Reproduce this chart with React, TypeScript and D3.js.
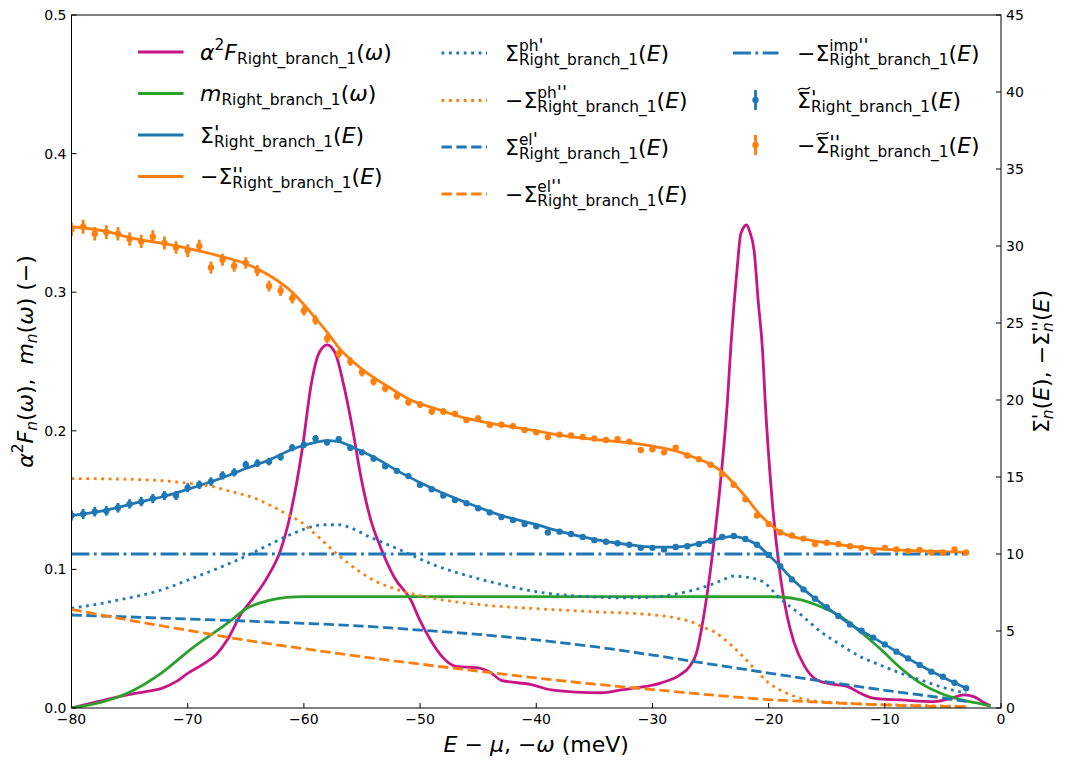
import React from 'react';
import * as d3 from 'd3';

const FONT = '"DejaVu Sans", sans-serif';
const BLUE = '#1f77b4';
const ORANGE = '#ff7f0e';
const GREEN = '#2ca02c';
const MAGENTA = '#c71585';

// Eliashberg function α²F(ω) (left axis), sampled on −ω
const a2fE = [-80, -78, -76, -75.2, -73.5, -72.3, -71, -70, -68.6, -67.5, -66.6, -65.4, -64.3, -63.1, -62, -61.1, -60.1, -59.4, -58.7, -58, -57.3, -56.6, -55.8, -55.1, -54.25, -53.4, -52.2, -50.8, -50, -49.1, -48.2, -46.9, -45, -44, -43, -40.5, -38.7, -36.6, -34.4, -32.7, -31, -29.3, -27.6, -26.8, -26.2, -25.8, -25, -24.3, -23.54, -23.25, -22.7, -22.4, -21.9, -21.6, -21.25, -20.9, -20.5, -20.3, -19.7, -19.1, -18.4, -17.8, -16.9, -15.8, -14.4, -13.2, -12.1, -10.9, -8.6, -5.7, -4.3, -3.2, -2.3, -1.6, -0.9];
const a2fV = [0.0, 0.004, 0.008, 0.0094, 0.012, 0.014, 0.019, 0.025, 0.032, 0.039, 0.049, 0.068, 0.08, 0.095, 0.114, 0.142, 0.189, 0.232, 0.256, 0.262, 0.256, 0.234, 0.201, 0.167, 0.136, 0.116, 0.094, 0.078, 0.063, 0.049, 0.038, 0.03, 0.029, 0.026, 0.02, 0.017, 0.013, 0.0115, 0.011, 0.013, 0.015, 0.018, 0.024, 0.03, 0.04, 0.056, 0.1, 0.15, 0.222, 0.261, 0.318, 0.342, 0.3485, 0.343, 0.33, 0.294, 0.255, 0.222, 0.15, 0.102, 0.066, 0.047, 0.03, 0.02, 0.017, 0.0154, 0.0106, 0.007, 0.0058, 0.0046, 0.007, 0.0094, 0.008, 0.0046, 0.0017];

// window function m(ω) (left axis)
const mE = [-80, -77.5, -75.2, -72.3, -69.5, -66.6, -64.9, -63.1, -61.5, -60, -20, -19, -17.2, -15.5, -13.8, -12.1, -10.3, -8.6, -6.9, -5.2, -3.4, -1.7, -0.9];
const mV = [0.0, 0.004, 0.0106, 0.025, 0.044, 0.061, 0.072, 0.0774, 0.0798, 0.0803, 0.0803, 0.0801, 0.078, 0.073, 0.066, 0.055, 0.042, 0.0286, 0.0178, 0.0106, 0.0058, 0.0029, 0.0014];

// fitted Σ'(E) (right axis, meV)
const sigReE = [-80, -77, -74, -72, -70, -67, -65, -63, -61, -59, -58, -57, -56, -54, -51.7, -48.8, -45.9, -43, -40.2, -37.9, -35, -32, -30, -28, -26.5, -25, -24, -23, -22, -21, -20, -19, -18, -17, -16, -15, -14, -13, -12, -11, -10, -9, -8, -7, -6, -5, -4, -3];
const sigReV = [12.5, 12.85, 13.4, 13.75, 14.2, 14.95, 15.55, 16.1, 16.8, 17.25, 17.36, 17.3, 17.0, 16.3, 15.3, 14.2, 13.3, 12.5, 11.95, 11.45, 10.95, 10.6, 10.45, 10.45, 10.6, 10.86, 11.05, 11.15, 10.97, 10.6, 9.94, 9.2, 8.4, 7.72, 7.1, 6.54, 5.97, 5.45, 5.0, 4.57, 4.13, 3.67, 3.22, 2.79, 2.38, 2.0, 1.64, 1.28];

// fitted −Σ''(E)
const sigImE = [-80, -77, -75, -72, -70, -67, -65, -63, -61, -60, -59, -58, -57, -55, -52.5, -50.8, -48.5, -46.5, -44, -42.2, -40, -37.9, -35, -30, -28, -26, -24.8, -23.8, -22.9, -21.8, -20.8, -19.9, -18.9, -17.8, -16.8, -14.8, -12.8, -9.8, -6.9, -3];
const sigImV = [31.25, 30.95, 30.55, 30.15, 29.85, 29.3, 28.85, 28.1, 27.0, 26.2, 25.3, 24.4, 23.4, 22.0, 20.75, 20.0, 19.4, 18.9, 18.5, 18.27, 18.0, 17.7, 17.45, 17.0, 16.7, 16.15, 15.75, 15.2, 14.5, 13.55, 12.6, 11.95, 11.4, 11.1, 10.95, 10.7, 10.5, 10.3, 10.2, 10.1];

// phonon part Σ^ph'
const phReE = [-80, -76, -72.3, -69.5, -65.4, -63, -60.9, -58.3, -57, -56, -54.3, -51.7, -48.8, -45.1, -42, -40, -37, -35, -32, -30, -28, -26.5, -25, -24, -23, -22, -20.5, -19, -17.2, -15.5, -13.8, -12.1, -10.4, -8.6, -6.9, -5.2, -3];
const phReV = [6.47, 7.0, 7.66, 8.45, 9.72, 10.6, 11.34, 11.9, 11.9, 11.7, 11.1, 10.26, 9.29, 8.42, 7.85, 7.55, 7.3, 7.2, 7.15, 7.2, 7.4, 7.65, 8.0, 8.3, 8.57, 8.5, 8.2, 7.1, 6.04, 4.95, 4.1, 3.33, 2.79, 2.25, 1.82, 1.38, 0.95];

// phonon part −Σ^ph''
const phImE = [-80, -75, -72, -70, -68, -66, -64.5, -63, -61.5, -60.3, -58.6, -57, -55.4, -54, -52, -50, -47, -44, -40, -35, -30, -28, -26.5, -25.8, -24.7, -23.1, -22.2, -21.4, -20.1, -18.4, -16.4, -12.9, -8, -3];
const phImV = [14.9, 14.85, 14.75, 14.6, 14.4, 14.0, 13.7, 13.2, 12.6, 12.1, 11.0, 9.9, 8.96, 8.3, 7.7, 7.3, 6.9, 6.65, 6.45, 6.25, 6.05, 5.85, 5.55, 5.3, 4.95, 4.0, 3.33, 2.7, 1.7, 0.95, 0.5, 0.3, 0.18, 0.1];

// electron part Σ^el'
const elReE = [-80, -70, -60, -55, -50, -45, -40, -35, -30, -25, -20, -15, -10, -5, -3];
const elReV = [6.04, 5.78, 5.5, 5.32, 5.06, 4.78, 4.42, 3.98, 3.44, 2.85, 2.27, 1.7, 1.15, 0.65, 0.42];

// electron part −Σ^el''
const elImE = [-80, -75, -70, -65, -60, -55, -50, -45, -40, -35, -30, -25, -20, -15, -10, -5, -3];
const elImV = [6.4, 5.7, 5.05, 4.4, 3.85, 3.33, 2.85, 2.4, 1.95, 1.55, 1.2, 0.85, 0.55, 0.35, 0.2, 0.1, 0.07];

// impurity part −Σ^imp''
const impE = [-80, -3];
const impV = [10, 10];

// extracted self energy points
const ptsE = [-80, -79, -78, -77, -76, -75, -74, -73, -72, -71, -70, -69, -68, -67, -66, -65, -64, -63, -62, -61, -60, -59, -58, -57, -56, -55, -54, -53, -52, -51, -50, -49, -48, -47, -46, -45, -44, -43, -42, -41, -40, -39, -38, -37, -36, -35, -34, -33, -32, -31, -30, -29, -28, -27, -26, -25, -24, -23, -22, -21, -20, -19, -18, -17, -16, -15, -14, -13, -12, -11, -10, -9, -8, -7, -6, -5, -4, -3];
const ptsRe = [12.5, 12.6, 12.75, 12.8, 13.0, 13.25, 13.4, 13.6, 13.8, 13.8,
  14.3, 14.5, 14.7, 15.1, 15.3, 15.8, 15.9, 16.0, 16.3, 16.9,
  17.1, 17.5, 17.25, 17.45, 16.9, 16.6, 16.2, 15.7, 15.4, 15.06,
  14.5, 14.2, 13.8, 13.5, 13.3, 12.97, 12.7, 12.4, 12.2, 11.95,
  11.8, 11.4, 11.45, 11.3, 11.1, 10.9, 10.8, 10.7, 10.6, 10.4,
  10.4, 10.3, 10.45, 10.5, 10.65, 10.86, 11.1, 11.17, 10.97, 10.6,
  9.94, 9.2, 8.35, 7.7, 7.1, 6.54, 5.97, 5.43, 5.02, 4.57,
  4.13, 3.66, 3.22, 2.79, 2.36, 2.03, 1.64, 1.28];
const ptsReErr = [0.32, 0.32, 0.31, 0.31, 0.31, 0.30, 0.30, 0.30, 0.29, 0.29,
  0.29, 0.28, 0.28, 0.27, 0.27, 0.26, 0.25, 0.25, 0.24, 0.23,
  0.23, 0.22, 0.21, 0.21, 0.20, 0.19, 0.19, 0.18, 0.17, 0.17,
  0.16, 0.16, 0.15, 0.15, 0.14, 0.14, 0.14, 0.13, 0.13, 0.13,
  0.12, 0.12, 0.12, 0.12, 0.11, 0.11, 0.11, 0.11, 0.11, 0.10,
  0.10, 0.10, 0.10, 0.10, 0.10, 0.09, 0.09, 0.09, 0.09, 0.09,
  0.08, 0.08, 0.08, 0.08, 0.08, 0.08, 0.07, 0.07, 0.07, 0.07,
  0.07, 0.07, 0.07, 0.07, 0.06, 0.06, 0.06, 0.06];
const ptsIm = [31.08, 31.25, 30.8, 30.9, 30.8, 30.45, 30.3, 30.6, 30.2, 29.9,
  29.7, 30.0, 28.6, 29.1, 28.7, 28.9, 28.4, 27.4, 27.1, 26.6,
  25.8, 25.2, 24.0, 23.0, 22.5, 21.8, 21.2, 20.75, 20.26, 19.85,
  19.7, 19.25, 19.25, 19.1, 18.7, 18.8, 18.4, 18.4, 18.3, 18.05,
  17.9, 17.6, 17.75, 17.7, 17.6, 17.5, 17.4, 17.45, 17.3, 16.75,
  16.8, 16.6, 16.9, 16.4, 16.15, 15.8, 15.2, 14.5, 13.55, 12.5,
  11.95, 11.4, 11.2, 11.0, 10.65, 10.73, 10.65, 10.5, 10.4, 10.2,
  10.4, 10.3, 10.2, 10.26, 10.1, 10.1, 10.3, 10.1];
const ptsImErr = [0.45, 0.45, 0.44, 0.44, 0.44, 0.43, 0.43, 0.42, 0.42, 0.41,
  0.41, 0.40, 0.40, 0.39, 0.38, 0.37, 0.36, 0.35, 0.34, 0.33,
  0.32, 0.31, 0.30, 0.29, 0.28, 0.27, 0.26, 0.25, 0.24, 0.23,
  0.22, 0.21, 0.21, 0.20, 0.20, 0.19, 0.19, 0.18, 0.18, 0.17,
  0.17, 0.17, 0.16, 0.16, 0.16, 0.15, 0.15, 0.15, 0.15, 0.14,
  0.14, 0.14, 0.14, 0.13, 0.13, 0.13, 0.13, 0.12, 0.12, 0.12,
  0.11, 0.11, 0.11, 0.10, 0.10, 0.10, 0.10, 0.10, 0.09, 0.09,
  0.09, 0.09, 0.09, 0.08, 0.08, 0.08, 0.08, 0.08];

const xTicks = [-80, -70, -60, -50, -40, -30, -20, -10, 0];
const leftTicks = [0, 0.1, 0.2, 0.3, 0.4, 0.5];
const rightTicks = [0, 5, 10, 15, 20, 25, 30, 35, 40, 45];

const BR = 'Right_branch_1';

// plot frame
const X0 = 71.5, X1 = 1001, Y0 = 708, Y1 = 15;
const x = d3.scaleLinear().domain([-80, 0]).range([X0, X1]);
const yL = d3.scaleLinear().domain([0, 0.5]).range([Y0, Y1]);
const yR = d3.scaleLinear().domain([0, 45]).range([Y0, Y1]);

const LW = 2.8;
const DASH = `${3.7 * LW} ${1.6 * LW}`;
const DOT = `${1 * LW} ${1.65 * LW}`;
const DASHDOT = `${6.4 * LW} ${1.6 * LW} ${1 * LW} ${1.6 * LW}`;

let ctx: CanvasRenderingContext2D | null = null;
function measure(s: string, size: number, italic: boolean): number {
  if (!ctx) ctx = document.createElement('canvas').getContext('2d');
  if (!ctx) return s.length * size * 0.6;
  ctx.font = `${italic ? 'italic ' : ''}${size}px "DejaVu Sans"`;
  return ctx.measureText(s).width;
}

type Tok = { t?: string; it?: boolean; sc?: number; tilde?: boolean; sup?: Tok[]; sub?: Tok[]; up?: number };

// lays out a small math expression as tspans; returns the x after the last glyph
function layout(toks: Tok[], x0: number, y0: number, size: number, spans: React.ReactNode[], deco: React.ReactNode[], key: string): number {
  let cx = x0;
  toks.forEach((tk, i) => {
    const k = `${key}-${i}`;
    if (tk.t !== undefined) {
      const fs = size * (tk.sc ?? 1);
      const w = measure(tk.t, fs, !!tk.it);
      spans.push(
        <tspan key={k} x={cx} y={y0} fontSize={fs} fontStyle={tk.it ? 'italic' : 'normal'}>{tk.t}</tspan>
      );
      if (tk.tilde) {
        const ty = y0 - fs * 0.86;
        const a = cx + w * 0.08, b = cx + w * 0.95;
        deco.push(
          <path key={k + 't'} d={`M${a},${ty + 1.4} C${a + (b - a) * 0.35},${ty - 3.2} ${a + (b - a) * 0.65},${ty + 3.2} ${b},${ty - 1.4}`}
            fill="none" stroke="#000" strokeWidth={1.3} />
        );
      }
      cx += w;
    } else {
      const s = size * 0.7;
      let w = 0;
      if (tk.sup) w = Math.max(w, layout(tk.sup, cx, y0 - size * (tk.up ?? 0.42), s, spans, deco, k + 'p') - cx);
      if (tk.sub) w = Math.max(w, layout(tk.sub, cx, y0 + size * 0.2, s, spans, deco, k + 'b') - cx);
      cx += w;
    }
  });
  return cx;
}

function MathText({ toks, x0, y0, size, anchor = 'start', k }: { toks: Tok[]; x0: number; y0: number; size: number; anchor?: string; k: string }) {
  const probeS: React.ReactNode[] = [];
  const probeD: React.ReactNode[] = [];
  const w = layout(toks, 0, 0, size, probeS, probeD, 'p');
  const start = anchor === 'middle' ? x0 - w / 2 : x0;
  const spans: React.ReactNode[] = [];
  const deco: React.ReactNode[] = [];
  layout(toks, start, y0, size, spans, deco, k);
  return (
    <g>
      <text fontFamily={FONT} fill="#000" style={{ whiteSpace: 'pre' }}>{spans}</text>
      {deco}
    </g>
  );
}

const sub = (t: string, it = false): Tok => ({ sub: [{ t, it }] });
const argE: Tok[] = [{ t: '(' }, { t: 'E', it: true }, { t: ')' }];
const argW: Tok[] = [{ t: '(' }, { t: 'ω', it: true }, { t: ')' }];
// primes drawn as slanted ticks
const P1: Tok = { t: "'", it: true, sc: 1.3 };
const P2: Tok = { t: "''", it: true, sc: 1.3 };
const P1s: Tok = { t: "'", it: true, sc: 1.2 };
const P2s: Tok = { t: "''", it: true, sc: 1.2 };
const PUP = 0.14;

const legendCols: { hx: number; tx: number; rows: { y: number; toks: Tok[]; kind: string; color: string }[] }[] = [
  {
    hx: 138, tx: 200,
    rows: [
      { y: 52, kind: 'solid', color: MAGENTA, toks: [{ t: 'α', it: true }, { sup: [{ t: '2' }] }, { t: 'F', it: true }, sub(BR), ...argW] },
      { y: 93.5, kind: 'solid', color: GREEN, toks: [{ t: 'm', it: true }, sub(BR), ...argW] },
      { y: 135, kind: 'solid', color: BLUE, toks: [{ t: 'Σ' }, { sup: [P1], sub: [{ t: BR }], up: PUP }, ...argE] },
      { y: 176.5, kind: 'solid', color: ORANGE, toks: [{ t: '−' }, { t: 'Σ' }, { sup: [P2], sub: [{ t: BR }], up: PUP }, ...argE] },
    ],
  },
  {
    hx: 441.5, tx: 505,
    rows: [
      { y: 53, kind: 'dot', color: BLUE, toks: [{ t: 'Σ' }, { sup: [{ t: 'ph' }, P1s], sub: [{ t: BR }], up: 0.45 }, ...argE] },
      { y: 100.5, kind: 'dot', color: ORANGE, toks: [{ t: '−' }, { t: 'Σ' }, { sup: [{ t: 'ph' }, P2s], sub: [{ t: BR }], up: 0.45 }, ...argE] },
      { y: 147, kind: 'dash', color: BLUE, toks: [{ t: 'Σ' }, { sup: [{ t: 'el' }, P1s], sub: [{ t: BR }], up: 0.45 }, ...argE] },
      { y: 194, kind: 'dash', color: ORANGE, toks: [{ t: '−' }, { t: 'Σ' }, { sup: [{ t: 'el' }, P2s], sub: [{ t: BR }], up: 0.45 }, ...argE] },
    ],
  },
  {
    hx: 733, tx: 797,
    rows: [
      { y: 53, kind: 'dashdot', color: BLUE, toks: [{ t: '−' }, { t: 'Σ' }, { sup: [{ t: 'imp' }, P2s], sub: [{ t: BR }], up: 0.45 }, ...argE] },
      { y: 100, kind: 'err', color: BLUE, toks: [{ t: 'Σ', tilde: true }, { sup: [P1], sub: [{ t: BR }], up: PUP }, ...argE] },
      { y: 145, kind: 'err', color: ORANGE, toks: [{ t: '−' }, { t: 'Σ', tilde: true }, { sup: [P2], sub: [{ t: BR }], up: PUP }, ...argE] },
    ],
  },
];

const xLabel: Tok[] = [{ t: 'E', it: true }, { t: ' − ' }, { t: 'μ', it: true }, { t: ', −' }, { t: 'ω', it: true }, { t: ' (meV)' }];
const yLabelL: Tok[] = [{ t: 'α', it: true }, { sup: [{ t: '2' }] }, { t: 'F', it: true }, sub('n', true), ...argW, { t: ',  ' }, { t: 'm', it: true }, sub('n', true), ...argW, { t: ' (−)' }];
const yLabelR: Tok[] = [{ t: 'Σ' }, { sup: [P1], sub: [{ t: 'n', it: true }], up: PUP }, ...argE, { t: ', −' }, { t: 'Σ' }, { sup: [P2], sub: [{ t: 'n', it: true }], up: PUP }, ...argE];

function curve(E: number[], V: number[], y: d3.ScaleLinear<number, number>): string {
  const gen = d3.line<number>()
    .x((_, i) => x(E[i]))
    .y((d) => y(d))
    .curve(d3.curveMonotoneX);
  return gen(V) || '';
}

const fmtMinus = (s: string) => s.replace('-', '−');

export default function App() {
  const lab = 22;

  return (
    <svg width={1066} height={766} style={{ position: 'absolute', left: 0, top: 0, background: '#fff' }}
      xmlns="http://www.w3.org/2000/svg">
      <rect x={0} y={0} width={1066} height={766} fill="#fff" />
      <defs>
        <clipPath id="plotClip">
          <rect x={X0} y={Y1} width={X1 - X0} height={Y0 - Y1} />
        </clipPath>
      </defs>

      <g clipPath="url(#plotClip)" fill="none" strokeWidth={LW}>
        <path d={curve(a2fE, a2fV, yL)} stroke={MAGENTA} />
        <path d={curve(mE, mV, yL)} stroke={GREEN} />
        <path d={curve(sigReE, sigReV, yR)} stroke={BLUE} />
        <path d={curve(sigImE, sigImV, yR)} stroke={ORANGE} />
        <path d={curve(phReE, phReV, yR)} stroke={BLUE} strokeDasharray={DOT} />
        <path d={curve(phImE, phImV, yR)} stroke={ORANGE} strokeDasharray={DOT} />
        <path d={curve(elReE, elReV, yR)} stroke={BLUE} strokeDasharray={DASH} />
        <path d={curve(elImE, elImV, yR)} stroke={ORANGE} strokeDasharray={DASH} />
        <path d={curve(impE, impV, yR)} stroke={BLUE} strokeDasharray={DASHDOT} />
        {ptsE.map((e, i) => (
          <g key={'re' + i}>
            <line x1={x(e)} x2={x(e)} y1={yR(ptsRe[i] - ptsReErr[i])} y2={yR(ptsRe[i] + ptsReErr[i])} stroke={BLUE} />
            <circle cx={x(e)} cy={yR(ptsRe[i])} r={3.2} fill={BLUE} stroke="none" />
          </g>
        ))}
        {ptsE.map((e, i) => (
          <g key={'im' + i}>
            <line x1={x(e)} x2={x(e)} y1={yR(ptsIm[i] - ptsImErr[i])} y2={yR(ptsIm[i] + ptsImErr[i])} stroke={ORANGE} />
            <circle cx={x(e)} cy={yR(ptsIm[i])} r={3.2} fill={ORANGE} stroke="none" />
          </g>
        ))}
      </g>

      {/* frame */}
      <rect x={X0} y={Y1} width={X1 - X0} height={Y0 - Y1} fill="none" stroke="#000" strokeWidth={1} />

      {/* x ticks */}
      {xTicks.map((t) => (
        <g key={'xt' + t}>
          <line x1={x(t)} x2={x(t)} y1={Y0} y2={Y0 - 5} stroke="#000" strokeWidth={1} />
          <text x={x(t)} y={723.5} fontSize={14} fontFamily={FONT} textAnchor="middle">{fmtMinus(String(t))}</text>
        </g>
      ))}
      {/* left ticks */}
      {leftTicks.map((t) => (
        <g key={'lt' + t}>
          <line x1={X0} x2={X0 + 5} y1={yL(t)} y2={yL(t)} stroke="#000" strokeWidth={1} />
          <text x={X0 - 5} y={yL(t) + 5} fontSize={14} fontFamily={FONT} textAnchor="end">{d3.format('.1f')(t)}</text>
        </g>
      ))}
      {/* right ticks */}
      {rightTicks.map((t) => (
        <g key={'rt' + t}>
          <line x1={X1} x2={X1 - 5} y1={yR(t)} y2={yR(t)} stroke="#000" strokeWidth={1} />
          <text x={X1 + 5} y={yR(t) + 5} fontSize={14} fontFamily={FONT} textAnchor="start">{String(t)}</text>
        </g>
      ))}

      <MathText toks={xLabel} x0={(X0 + X1) / 2} y0={751.5} size={lab} anchor="middle" k="xl" />
      <g transform="translate(25,361.5) rotate(-90)">
        <MathText toks={yLabelL} x0={0} y0={lab * 0.35} size={lab} anchor="middle" k="yl" />
      </g>
      <g transform="translate(1041,361.5) rotate(-90)">
        <MathText toks={yLabelR} x0={0} y0={lab * 0.35} size={lab} anchor="middle" k="yr" />
      </g>

      {legendCols.map((col, ci) => col.rows.map((r, ri) => {
        const key = `lg${ci}-${ri}`;
        let handle: React.ReactNode;
        if (r.kind === 'err') {
          const cxh = col.hx + 22.5;
          handle = (
            <g>
              <line x1={cxh} x2={cxh} y1={r.y - 10} y2={r.y + 10} stroke={r.color} strokeWidth={LW} />
              <circle cx={cxh} cy={r.y} r={3.2} fill={r.color} />
            </g>
          );
        } else {
          const da = r.kind === 'dot' ? DOT : r.kind === 'dash' ? DASH : r.kind === 'dashdot' ? DASHDOT : undefined;
          handle = <line x1={col.hx} x2={col.hx + 45.5} y1={r.y} y2={r.y} stroke={r.color} strokeWidth={LW} strokeDasharray={da} />;
        }
        return (
          <g key={key}>
            {handle}
            <MathText toks={r.toks} x0={col.tx} y0={r.y + 7.5} size={lab} k={key} />
          </g>
        );
      }))}
    </svg>
  );
}
